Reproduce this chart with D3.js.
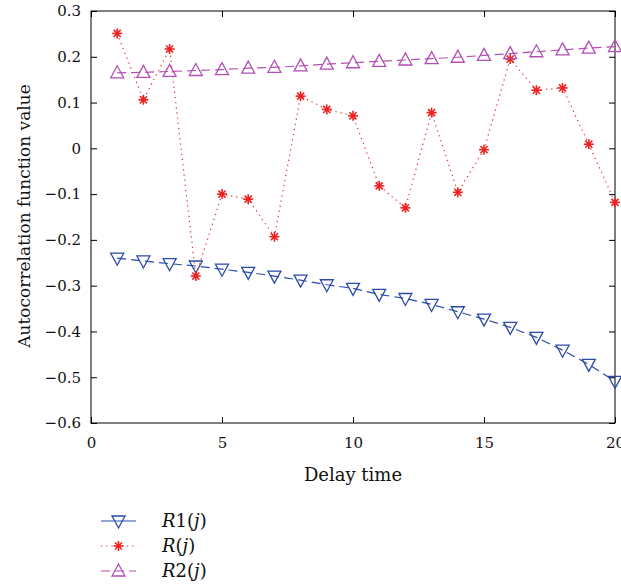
<!DOCTYPE html>
<html><head><meta charset="utf-8">
<script src="https://cdn.jsdelivr.net/npm/d3@7/dist/d3.min.js"></script>
<style>body{margin:0;background:#fff}svg{display:block}</style>
</head><body><svg id="c" width="621" height="588"></svg>
<script>
const delays = d3.range(1, 21);
const r1Values = [-0.240,-0.246,-0.252,-0.257,-0.264,-0.271,-0.279,-0.288,-0.298,-0.306,-0.319,-0.328,-0.341,-0.357,-0.373,-0.391,-0.413,-0.441,-0.472,-0.509];
const rValues = [0.251,0.106,0.217,-0.279,-0.100,-0.111,-0.193,0.114,0.085,0.071,-0.082,-0.130,0.078,-0.096,-0.003,0.195,0.127,0.132,0.009,-0.118];
const r2Values = [0.165,0.166,0.168,0.170,0.172,0.175,0.177,0.180,0.184,0.187,0.190,0.193,0.196,0.199,0.203,0.207,0.211,0.215,0.219,0.222];
const xTicks = [0,5,10,15,20];
const yTicks = [0.3,0.2,0.1,0,-0.1,-0.2,-0.3,-0.4,-0.5,-0.6];

const svg = d3.select('#c');
const font = 'DejaVu Serif';
const L = 91, R = 615, T = 11, B = 423;
const x = d3.scaleLinear().domain([0,20]).range([L,R]);
const y = d3.scaleLinear().domain([-0.6,0.3]).range([B,T]);
const fmt = v => v === 0 ? '0' : d3.format('.1f')(v).replace('-', '\u2212');

const g = svg.append('g');
g.append('rect').attr('x',L).attr('y',T).attr('width',R-L).attr('height',B-T)
 .attr('fill','none').attr('stroke','#000').attr('stroke-width',1);
const ax = g.append('g').attr('transform',`translate(0,${B})`)
 .call(d3.axisBottom(x).tickValues(xTicks).tickSize(-6).tickPadding(14).tickFormat(d=>d));
const axT = g.append('g').attr('transform',`translate(0,${T})`)
 .call(d3.axisTop(x).tickValues(xTicks).tickSize(-6).tickFormat(''));
const ay = g.append('g').attr('transform',`translate(${L},0)`)
 .call(d3.axisLeft(y).tickValues(yTicks).tickSize(-6).tickPadding(10).tickFormat(fmt));
const ayR = g.append('g').attr('transform',`translate(${R},0)`)
 .call(d3.axisRight(y).tickValues(yTicks).tickSize(-6).tickFormat(''));
[ax,axT,ay,ayR].forEach(a=>{a.select('.domain').remove();a.selectAll('line').attr('stroke','#000');
 a.selectAll('text').attr('font-family',font).attr('font-size',15).attr('fill','#111');});

svg.append('text').attr('x',(L+R)/2).attr('y',481).attr('text-anchor','middle')
 .attr('font-family',font).attr('font-size',18).attr('fill','#111').text('Delay time');
svg.append('text').attr('transform',`translate(30,${(T+B)/2-1}) rotate(-90)`).attr('text-anchor','middle')
 .attr('font-family',font).attr('font-size',17).attr('fill','#111').text('Autocorrelation function value');

const blue = '#2a4aa8', red = '#ee2222', mag = '#b44fb4';
const series = [
 {vals:r1Values, color:blue, dash:'9,5', legDash:null, marker:'down', name:['R','1']},
 {vals:rValues, color:red, dash:'1.2,4', legDash:'1.2,4', marker:'star', name:['R','']},
 {vals:r2Values, color:mag, dash:'9,5', legDash:'9,5', marker:'up', name:['R','2']}
];
const line = d3.line().x((d,i)=>x(delays[i])).y(d=>y(d));
function drawMarker(sel, type, cx, cy, color){
  if(type==='down'){
    sel.append('path').attr('d',`M${cx-6.5},${cy-5}L${cx+6.5},${cy-5}L${cx},${cy+7}Z`)
     .attr('fill','none').attr('stroke',color).attr('stroke-width',1.3);
  } else if(type==='up'){
    sel.append('path').attr('d',`M${cx-6.5},${cy+5}L${cx+6.5},${cy+5}L${cx},${cy-7}Z`)
     .attr('fill','none').attr('stroke',color).attr('stroke-width',1.3);
  } else {
    const r=5;
    for(let k=0;k<4;k++){
      const a=k*Math.PI/4;
      sel.append('line').attr('x1',cx-r*Math.cos(a)).attr('y1',cy-r*Math.sin(a))
       .attr('x2',cx+r*Math.cos(a)).attr('y2',cy+r*Math.sin(a)).attr('stroke',color).attr('stroke-width',1.6);
    }
    sel.append('circle').attr('cx',cx).attr('cy',cy).attr('r',2).attr('fill',color);
  }
}
series.forEach(s=>{
  g.append('path').attr('d',line(s.vals)).attr('fill','none').attr('stroke',s.color)
   .attr('stroke-width',1.2).attr('stroke-dasharray',s.dash);
  const mg = g.append('g');
  s.vals.forEach((v,i)=>drawMarker(mg, s.marker, x(delays[i]), y(v), s.color));
});

const leg = svg.append('g');
series.forEach((s,i)=>{
  const yy = 521 + i*25;
  leg.append('line').attr('x1',101).attr('x2',136).attr('y1',yy).attr('y2',yy)
   .attr('stroke',s.color).attr('stroke-width',1.2).attr('stroke-dasharray', s.legDash);
  drawMarker(leg, s.marker, 118.5, yy, s.color);
  const t = leg.append('text').attr('x',162).attr('y',yy+6).attr('font-family',font)
   .attr('font-size',18).attr('fill','#111');
  t.append('tspan').attr('font-style','italic').text(s.name[0]);
  t.append('tspan').text(s.name[1]+'(');
  t.append('tspan').attr('font-style','italic').text('j');
  t.append('tspan').text(')');
});
</script></body></html>
